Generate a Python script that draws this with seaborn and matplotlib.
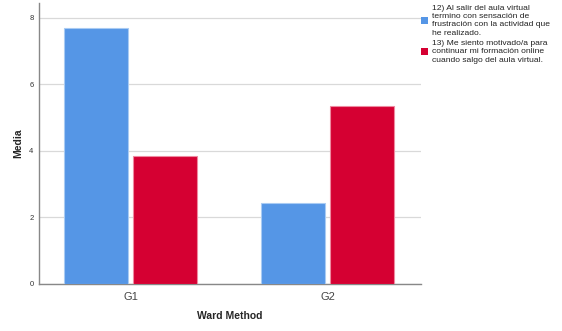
import matplotlib
matplotlib.use("Agg")
import matplotlib.pyplot as plt
from matplotlib.patches import Patch
import seaborn as sns
import pandas as pd
import numpy as np

groups = ["G1", "G2"]
series = [
    "12) Al salir del aula virtual\ntermino con sensación de\nfrustración con la actividad que\nhe realizado.",
    "13) Me siento motivado/a para\ncontinuar mi formación online\ncuando salgo del aula virtual.",
]
values_12 = [7.70, 2.44]
values_13 = [3.85, 5.35]
yticks = [0, 2, 4, 6, 8]
colors = ["#5596E6", "#D50032"]
edge_colors = ["#A9CBF3", "#EE8AA0"]

df = pd.DataFrame({
    "Ward Method": groups * 2,
    "serie": [series[0]] * 2 + [series[1]] * 2,
    "Media": values_12 + values_13,
})

sns.set_style("white")
plt.rcParams["font.family"] = ["Liberation Sans", "DejaVu Sans"]

fig = plt.figure(figsize=(5.62, 3.31), dpi=100)
ax = fig.add_axes([39 / 562, 1 - 284 / 331, 382 / 562, 281 / 331])

sns.barplot(data=df, x="Ward Method", y="Media", hue="serie", palette=colors,
            width=0.70, gap=0.08, ax=ax, saturation=1, zorder=3, legend=False)

for cont, ec in zip(ax.containers, edge_colors):
    for p in cont:
        p.set_edgecolor(ec)
        p.set_linewidth(0.8)

ax.set_ylim(0, 8.45)
ax.set_xlim(-0.465, 1.475)
ax.set_yticks(yticks)
ax.set_yticklabels([str(v) for v in yticks], fontsize=5.5, color="#333333")
ax.tick_params(axis="x", labelsize=8, colors="#444444", length=0, pad=6)
ax.tick_params(axis="y", length=0, pad=4)
ax.yaxis.grid(True, color="#d9d9d9", linewidth=0.9, zorder=0)
ax.set_axisbelow(True)
for s in ["top", "right"]:
    ax.spines[s].set_visible(False)
for s in ["left", "bottom"]:
    ax.spines[s].set_color("#888888")
    ax.spines[s].set_linewidth(1.0)

ax.set_xlabel("Ward Method", fontsize=7.5, fontweight="bold", labelpad=6)
ax.set_ylabel("Media", fontsize=7.5, fontweight="bold", labelpad=4)

handles = [Patch(facecolor=c, edgecolor="none") for c in colors]
leg = ax.legend(handles, series, loc="upper left", bbox_to_anchor=(421 / 562, 1 - 5 / 331),
                bbox_transform=fig.transFigure, frameon=False, fontsize=6.1,
                handlelength=0.85, handleheight=0.85, handletextpad=0.45,
                labelspacing=0.4, borderpad=0, borderaxespad=0)
for t in leg.get_texts():
    t.set_linespacing(1.25)
    t.set_color("#222222")

fig.savefig("out.png", dpi=100)
